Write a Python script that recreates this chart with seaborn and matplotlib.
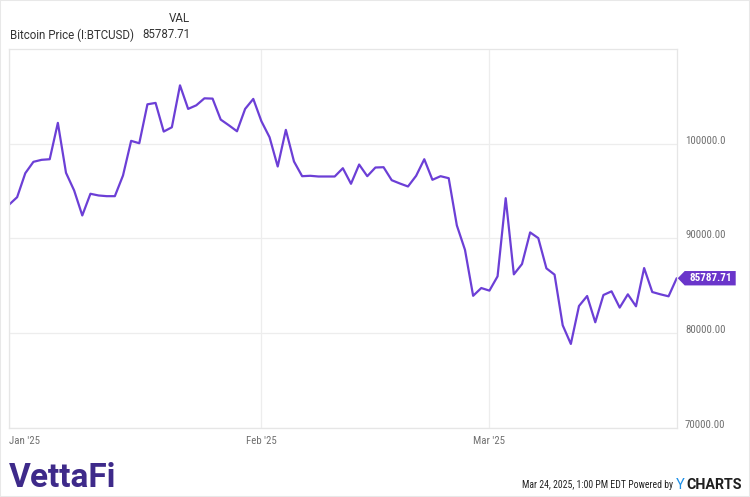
import numpy as np
import pandas as pd
import matplotlib
matplotlib.use("Agg")
import matplotlib.pyplot as plt
import matplotlib.transforms as mtransforms
from matplotlib.patches import Polygon, Rectangle
import seaborn as sns

# ---------------- data ----------------
start_date = "2025-01-01"
end_date = "2025-03-24"
prices = [
    93558, 94361, 96895, 98099, 98310, 98374, 102218, 96938, 95068, 92428,
    94720, 94540, 94467, 94467, 96652, 100317, 100063, 104182, 104330, 101299,
    101753, 106188, 103696, 104076, 104815, 104784, 102566, 101964, 101331, 103696,
    104752,
    102387, 100697, 97603, 101478, 98131, 96579, 96621, 96547, 96547, 96547,
    97423, 95776, 97814, 96579, 97497, 97529, 96156, 95808, 95491, 96621,
    98374, 96198, 96579, 96367, 91372, 88785, 83928, 84751,
    84477, 85987, 94255, 86198, 87286, 90633, 90031, 86832, 86166, 80812,
    78838, 82851, 83907, 81129, 84012, 84403, 82682, 84086, 82819, 86863,
    84329, 84086, 83875, 85787.71,
]
y_ticks = [70000, 80000, 90000, 100000]
y_tick_labels = ["70000.00", "80000.00", "90000.00", "100000.0"]
x_ticks = ["2025-01-01", "2025-02-01", "2025-03-01"]
x_tick_labels = ["Jan '25", "Feb '25", "Mar '25"]
series_name = "Bitcoin Price (I:BTCUSD)"
last_label = "85787.71"

dates = pd.date_range(start_date, end_date, freq="D")
df = pd.DataFrame({"date": dates, "price": prices})

# ---------------- style ----------------
sns.set_theme(style="white")
plt.rcParams["font.family"] = ["Roboto", "DejaVu Sans"]

LINE = "#6C3FD6"
TAG = "#6A35CA"
GRID = "#EDEDED"
TICK = "#707070"
cond = ["Roboto Condensed", "Roboto", "DejaVu Sans"]

fig = plt.figure(figsize=(7.5, 4.97), dpi=100)
ax = fig.add_axes([9 / 750, 1 - 427.5 / 497, (676.7 - 9) / 750, (427.5 - 49.3) / 497])

sns.lineplot(data=df, x="date", y="price", ax=ax, color=LINE, linewidth=1.6)

ax.set_xlim(dates[0], dates[-1])
ax.set_ylim(70000, 110000)
ax.set_xlabel("")
ax.set_ylabel("")

ax.set_yticks(y_ticks)
ax.yaxis.tick_right()
ax.set_yticklabels(y_tick_labels, family=cond, fontsize=7.8, color=TICK)
ax.tick_params(axis="y", length=0, pad=6)
up = mtransforms.ScaledTranslation(0, 4 / 100, fig.dpi_scale_trans)
for lbl in ax.get_yticklabels():
    lbl.set_transform(lbl.get_transform() + up)

xt = pd.to_datetime(x_ticks)
ax.set_xticks(xt)
ax.set_xticklabels(x_tick_labels, family=cond, fontsize=7.8, color=TICK)
ax.tick_params(axis="x", length=0, pad=6)
ax.get_xticklabels()[0].set_horizontalalignment("left")

ax.grid(True, color=GRID, linewidth=0.9)
ax.set_axisbelow(True)
for s in ax.spines.values():
    s.set_color("#E6E6E6")
    s.set_linewidth(0.9)

# price tag at last value
v = prices[-1]
px = 1.0 / (676.7 - 9)
half = 7.2 * 105.6
trans = mtransforms.blended_transform_factory(ax.transAxes, ax.transData)
poly = Polygon(
    [(1.0 + 1 * px, v), (1.0 + 8 * px, v + half), (1.0 + 59 * px, v + half),
     (1.0 + 59 * px, v - half), (1.0 + 8 * px, v - half)],
    closed=True, transform=trans, clip_on=False, facecolor=TAG, edgecolor="none", zorder=5,
)
ax.add_patch(poly)
ax.text(1.0 + 34 * px, v, last_label, transform=trans, ha="center", va="center",
        color="white", fontsize=8, fontweight="bold", family=cond, zorder=6, clip_on=False)

# header
fig.text(190 / 750, 1 - 18 / 497, "VAL", ha="right", va="center", fontsize=8.4,
         color="#333333")
fig.text(10 / 750, 1 - 35 / 497, series_name, ha="left", va="center", fontsize=8.3,
         color="#333333")
fig.text(190 / 750, 1 - 35 / 497, last_label, ha="right", va="center", fontsize=8.3,
         color="#333333")

# footer
fig.text(9 / 750, 1 - 478 / 497, "VettaFi", ha="left", va="center", fontsize=24,
         fontweight="bold", color="#3E2A8A")
fig.text(673 / 750, 1 - 485 / 497, "Mar 24, 2025, 1:00 PM EDT Powered by", ha="right",
         va="center", fontsize=7.0, family=cond, color="#222222")
fig.text(676 / 750, 1 - 485 / 497, "Y", ha="left", va="center", fontsize=10.5,
         color="#1E90E8")
fig.text(686 / 750, 1 - 485 / 497, "CHARTS", ha="left", va="center", fontsize=10.3,
         fontweight="bold", color="#1F1F1F")

fig.patches.append(Rectangle((0, 0), 1, 1, transform=fig.transFigure, fill=False,
                             edgecolor="#E8E8E8", linewidth=1.5))

fig.savefig("out.png", dpi=100)
